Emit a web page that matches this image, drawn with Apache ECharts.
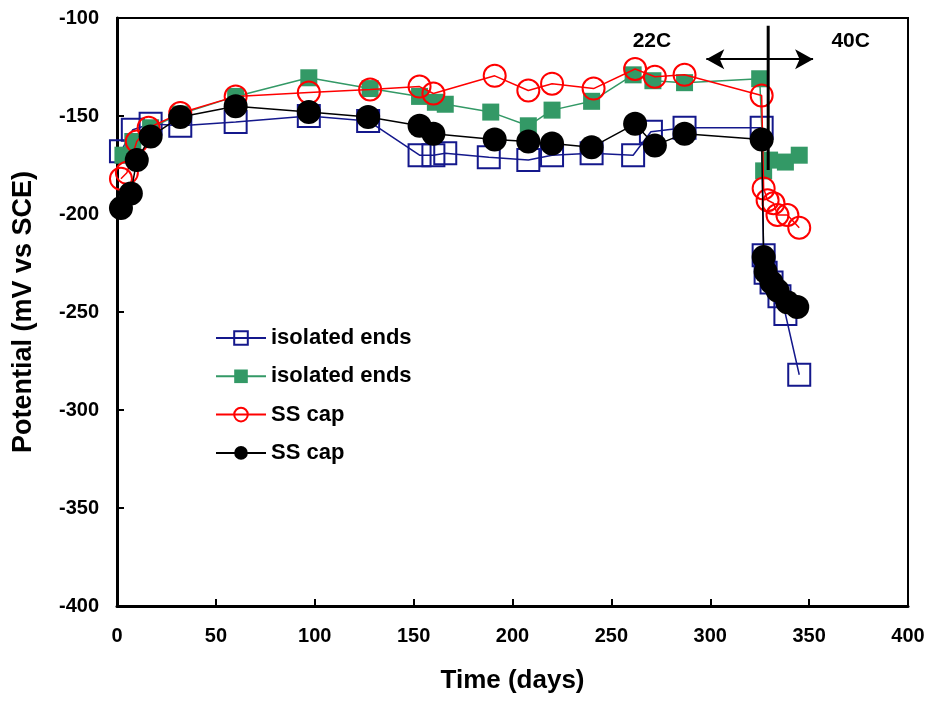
<!DOCTYPE html>
<html>
<head>
<meta charset="utf-8">
<script src="https://cdn.jsdelivr.net/npm/echarts@6/dist/echarts.min.js"></script>
<style>html,body{margin:0;padding:0;background:#fff;}#c{width:932px;height:709px;}</style>
</head>
<body>
<div id="c"></div>
<script>
// ---- data ----
const blueX = [2, 8, 17, 32, 60, 97, 127, 153, 160, 166, 188, 208, 220, 240, 261, 270, 287, 326, 327, 328, 331, 335, 338, 345];
const blueY = [-168, -157, -154, -155, -153, -150, -152.5, -170, -170, -169, -171, -172.5, -170, -169, -170, -158, -156, -156, -221, -230, -235, -242, -251, -282];

const greenX = [3, 8, 17, 32, 60, 97, 128, 153, 161, 166, 189, 208, 220, 240, 261, 271, 287, 325, 327, 330, 338, 345];
const greenY = [-170, -163, -156, -149, -140, -130.5, -136, -140, -143, -144, -148, -155, -147, -142.5, -129, -132, -133, -131, -178, -172.5, -173.5, -170];

const redX = [2, 5, 10, 16, 32, 60, 97, 128, 153, 160, 191, 208, 220, 241, 262, 272, 287, 326, 327, 329, 332, 334, 339, 345];
const redY = [-182, -179, -163, -156, -148.5, -140, -138, -136.5, -135, -138.5, -129.5, -137, -133.5, -136, -126, -130, -129, -139.5, -187, -193, -194.5, -200.5, -200.5, -207];

const blackX = [2, 7, 10, 17, 32, 60, 97, 127, 153, 160, 191, 208, 220, 240, 262, 272, 287, 326, 327, 328, 331, 334, 339, 344];
const blackY = [-197, -189.5, -172.5, -160.5, -150.5, -145, -148, -150.5, -155, -159, -162, -163, -164, -166, -154, -165, -159, -162, -222, -229.5, -235, -239, -245, -247.5];

const seriesNames = ['isolated ends', 'isolated ends ', 'SS cap', 'SS cap '];
const xTicks = [0, 50, 100, 150, 200, 250, 300, 350, 400];
const yTicks = [-400, -350, -300, -250, -200, -150, -100];

// annotation positions (data units)
const dividerX = [329.3, 329.3];
const dividerY = [-104, -177.5];
const arrowX = [298, 352];
const arrowY = -121;
const tempLabels = ['22C', '40C'];
const tempLabelX = [270.5, 371];
const tempLabelY = -112;

const zip = (xs, ys) => xs.map((x, i) => [x, ys[i]]);
const FONT = 'Liberation Sans, Arial, sans-serif';

const chart = echarts.init(document.getElementById('c'), null, {renderer: 'canvas'});
chart.setOption({
  animation: false,
  backgroundColor: '#fff',
  grid: {left: 117, right: 24, top: 18, bottom: 103, show: true, borderColor: '#000', borderWidth: 2, backgroundColor: 'transparent'},
  xAxis: {
    type: 'value', min: xTicks[0], max: xTicks[xTicks.length - 1], interval: 50,
    name: 'Time (days)', nameLocation: 'middle', nameGap: 62,
    nameTextStyle: {fontFamily: FONT, fontWeight: 'bold', fontSize: 26, color: '#000'},
    axisLine: {lineStyle: {color: '#000', width: 3}},
    axisTick: {inside: true, length: 7, lineStyle: {color: '#000', width: 2}},
    axisLabel: {margin: 20, fontFamily: FONT, fontWeight: 'bold', fontSize: 20, color: '#000'},
    splitLine: {show: false}
  },
  yAxis: {
    type: 'value', min: yTicks[0], max: yTicks[yTicks.length - 1], interval: 50,
    name: 'Potential (mV vs SCE)', nameLocation: 'middle', nameGap: 80,
    nameTextStyle: {fontFamily: FONT, fontWeight: 'bold', fontSize: 27, color: '#000'},
    axisLine: {lineStyle: {color: '#000', width: 3}},
    axisTick: {inside: true, length: 7, lineStyle: {color: '#000', width: 2}},
    axisLabel: {margin: 18, fontFamily: FONT, fontWeight: 'bold', fontSize: 20, color: '#000'},
    splitLine: {show: false}
  },
  legend: {
    orient: 'vertical', left: 210, top: 322,
    itemWidth: 50, itemHeight: 17, itemGap: 16.3,
    data: seriesNames,
    textStyle: {fontFamily: FONT, fontWeight: 'bold', fontSize: 22, color: '#000', padding: [0, 0, 0, 0]}
  },
  series: [
    {
      name: seriesNames[0], type: 'line', data: zip(blueX, blueY),
      symbol: 'rect', symbolSize: 22,
      itemStyle: {color: 'rgba(0,0,0,0)', borderColor: '#14188C', borderWidth: 2},
      lineStyle: {color: '#14188C', width: 1.5}, z: 2
    },
    {
      name: seriesNames[1], type: 'line', data: zip(greenX, greenY),
      symbol: 'rect', symbolSize: 17,
      itemStyle: {color: '#339966', borderWidth: 0},
      lineStyle: {color: '#339966', width: 1.5}, z: 3
    },
    {
      name: seriesNames[2], type: 'line', data: zip(redX, redY),
      symbol: 'circle', symbolSize: 22,
      itemStyle: {color: 'rgba(0,0,0,0)', borderColor: '#FF0000', borderWidth: 2},
      lineStyle: {color: '#FF0000', width: 1.5}, z: 4
    },
    {
      name: seriesNames[3], type: 'line', data: zip(blackX, blackY),
      symbol: 'circle', symbolSize: 24,
      itemStyle: {color: '#000', borderWidth: 0},
      lineStyle: {color: '#000', width: 1.5}, z: 5
    },
    {
      type: 'line', silent: true, symbol: 'none', data: zip(dividerX, dividerY),
      lineStyle: {color: '#000', width: 3}, z: 6, legendHoverLink: false,
      markLine: {
        silent: true, symbol: ['arrow', 'arrow'], symbolSize: [15, 18],
        lineStyle: {color: '#000', width: 2, type: 'solid'},
        label: {show: false},
        data: [[{coord: [arrowX[0], arrowY]}, {coord: [arrowX[1], arrowY]}]]
      }
    },
    {
      type: 'scatter', silent: true, symbolSize: 0,
      itemStyle: {opacity: 1},
      data: tempLabelX.map((x, i) => ({value: [x, tempLabelY], name: tempLabels[i]})),
      label: {show: true, position: 'inside', formatter: p => p.name, fontFamily: FONT, fontWeight: 'bold', fontSize: 21, color: '#000', opacity: 1},
      z: 7
    }
  ]
});
</script>
</body>
</html>
